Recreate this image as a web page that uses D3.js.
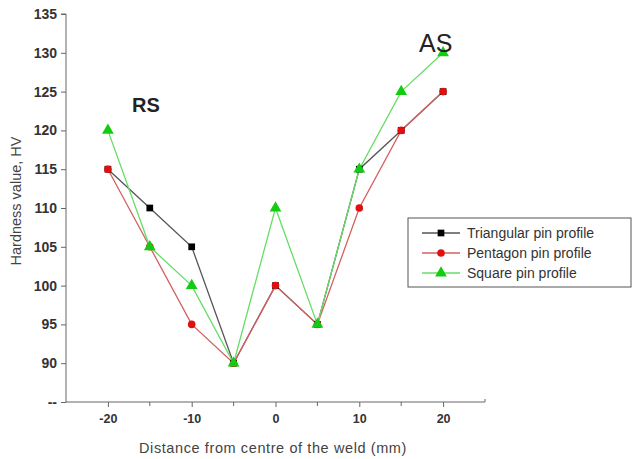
<!DOCTYPE html>
<html>
<head>
<meta charset="utf-8">
<script src="https://cdn.jsdelivr.net/npm/d3@7"></script>
<style>
  body { margin: 0; background: #fff; }
  text { font-family: "Liberation Sans", Arial, sans-serif; }
</style>
</head>
<body>
<script>
// distances from weld centre (mm)
var distance = [-20, -15, -10, -5, 0, 5, 10, 15, 20];
var triangular = [115, 110, 105, 90, 100, 95, 115, 120, 125];
var pentagon = [115, 105, 95, 90, 100, 95, 110, 120, 125];
var square = [120, 105, 100, 90, 110, 95, 115, 125, 130];
var yTicks = [85, 90, 95, 100, 105, 110, 115, 120, 125, 130, 135];
var yTickLabels = ["--", "90", "95", "100", "105", "110", "115", "120", "125", "130", "135"];
var xTicks = [-20, -10, 0, 10, 20];
var xTickLabels = ["-20", "-10", "0", "10", "20"];
var xMinor = [-15, -5, 5, 15];
var seriesNames = ["Triangular pin profile", "Pentagon pin profile", "Square pin profile"];

var width = 633, height = 459;
var svg = d3.select("body").append("svg")
    .attr("width", width)
    .attr("height", height);

var x = d3.scaleLinear().domain([-25, 25]).range([66, 485]);
var y = d3.scaleLinear().domain([85, 135]).range([402, 14]);

var axisColor = "#666";

// y axis
var yAxis = d3.axisLeft(y)
    .tickValues(yTicks)
    .tickSize(5)
    .tickFormat(function(d, i) { return yTickLabels[i]; });
var gy = svg.append("g")
    .attr("transform", "translate(66,0)")
    .call(yAxis);
gy.select(".domain").attr("stroke", axisColor).attr("d", "M-5,14H0V402");
gy.selectAll(".tick line").attr("stroke", axisColor);
gy.selectAll(".tick text")
    .attr("x", -9)
    .attr("fill", "#333")
    .style("font-size", "14px")
    .style("font-weight", "bold")
    .style("font-family", "'Liberation Sans', Arial, sans-serif");

// x axis
var xAxis = d3.axisBottom(x)
    .tickValues(xTicks)
    .tickSize(5)
    .tickSizeOuter(0)
    .tickFormat(function(d, i) { return xTickLabels[i]; });
var gx = svg.append("g")
    .attr("transform", "translate(0,402)")
    .call(xAxis);
gx.select(".domain").attr("stroke", axisColor).attr("d", "M66,0H485V-3");
gx.selectAll(".tick line").attr("stroke", axisColor);
gx.selectAll(".tick text")
    .attr("y", 12)
    .attr("fill", "#333")
    .style("font-size", "12.5px")
    .style("font-weight", "bold")
    .style("font-family", "'Liberation Sans', Arial, sans-serif");
gx.selectAll(".minor")
    .data(xMinor)
    .enter().append("line")
    .attr("x1", function(d) { return x(d); })
    .attr("x2", function(d) { return x(d); })
    .attr("y1", 0)
    .attr("y2", 4)
    .attr("stroke", axisColor);

// axis titles
svg.append("text")
    .attr("transform", "translate(21,201) rotate(-90)")
    .attr("text-anchor", "middle")
    .attr("fill", "#444")
    .style("font-size", "14.5px")
    .text("Hardness value, HV");

svg.append("text")
    .attr("x", 273)
    .attr("y", 453)
    .attr("text-anchor", "middle")
    .attr("fill", "#444")
    .style("font-size", "14.5px")
    .style("letter-spacing", "0.6px")
    .text("Distance from centre of the weld (mm)");

// series
var series = [
    { name: seriesNames[0], values: triangular, line: "#555", fill: "#000", shape: d3.symbolSquare, size: 45 },
    { name: seriesNames[1], values: pentagon, line: "#d46060", fill: "#e01010", shape: d3.symbolCircle, size: 45 },
    { name: seriesNames[2], values: square, line: "#66dd66", fill: "#11cc11", shape: d3.symbolTriangle, size: 60 }
];

var line = d3.line()
    .x(function(d, i) { return x(distance[i]); })
    .y(function(d) { return y(d); });

series.forEach(function(s) {
    svg.append("path")
        .datum(s.values)
        .attr("fill", "none")
        .attr("stroke", s.line)
        .attr("stroke-width", 1.3)
        .attr("d", line);
});

series.forEach(function(s) {
    svg.selectAll(null)
        .data(s.values)
        .enter().append("path")
        .attr("transform", function(d, i) { return "translate(" + x(distance[i]) + "," + y(d) + ")"; })
        .attr("d", d3.symbol().type(s.shape).size(s.size))
        .attr("fill", s.fill);
});

// annotations
svg.append("text")
    .attr("x", 132)
    .attr("y", 112)
    .attr("fill", "#222")
    .style("font-size", "20px")
    .style("font-weight", "bold")
    .text("RS");

svg.append("text")
    .attr("x", 419)
    .attr("y", 52)
    .attr("fill", "#222")
    .style("font-size", "25px")
    .text("AS");

// legend
var legend = svg.append("g").attr("transform", "translate(408,218)");
legend.append("rect")
    .attr("width", 223)
    .attr("height", 69)
    .attr("fill", "#fff")
    .attr("stroke", "#555")
    .attr("stroke-width", 1);

var rows = legend.selectAll(".row")
    .data(series)
    .enter().append("g")
    .attr("transform", function(d, i) { return "translate(0," + (15 + i * 20) + ")"; });
rows.append("line")
    .attr("x1", 14).attr("x2", 52)
    .attr("stroke", function(d) { return d.line; })
    .attr("stroke-width", 1.3);
rows.append("path")
    .attr("transform", "translate(33,0)")
    .attr("d", function(d) { return d3.symbol().type(d.shape).size(d.size)(); })
    .attr("fill", function(d) { return d.fill; });
rows.append("text")
    .attr("x", 59)
    .attr("y", 5)
    .attr("fill", "#333")
    .style("font-size", "14px")
    .text(function(d) { return d.name; });
</script>
</body>
</html>
